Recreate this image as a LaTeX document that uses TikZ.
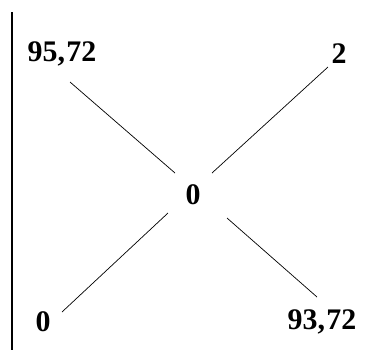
\documentclass[tikz,border=0pt]{standalone}
\usepackage{fontspec}
\setmainfont{Liberation Serif}
\usepackage{tikz}
\usetikzlibrary{positioning}

\begin{document}
\begin{tikzpicture}[x=1bp, y=-1bp,
    payoff/.style={font=\fontsize{30}{32}\selectfont\bfseries, inner sep=0pt},
    branch/.style={draw=black, line width=0.7bp}]
  \useasboundingbox (0,0) rectangle (382,356);
  % axis
  \draw[line width=1.6bp] (12,12) -- (12,350);
  % labels
  \node[payoff] (tl) at (62,54) {95,\kern1.5bp72};
  \node[payoff] (tr) at (339,54) {2};
  \node[payoff] (mid) at (193,195) {0};
  \node[payoff] (bl) at (43,322) {0};
  \node[payoff] (br) at (322,322) {93,\kern1.5bp72};
  % branch ends
  \coordinate (tl-a) at (70,82);   \coordinate (tl-b) at (175,173);
  \coordinate (tr-a) at (328,67);  \coordinate (tr-b) at (212,173);
  \coordinate (bl-a) at (62,312);  \coordinate (bl-b) at (168,213);
  \coordinate (br-a) at (317,297); \coordinate (br-b) at (227,218);
  \draw[branch] (tl-a) -- (tl-b);
  \draw[branch] (tr-a) -- (tr-b);
  \draw[branch] (bl-a) -- (bl-b);
  \draw[branch] (br-a) -- (br-b);
\end{tikzpicture}
\end{document}
